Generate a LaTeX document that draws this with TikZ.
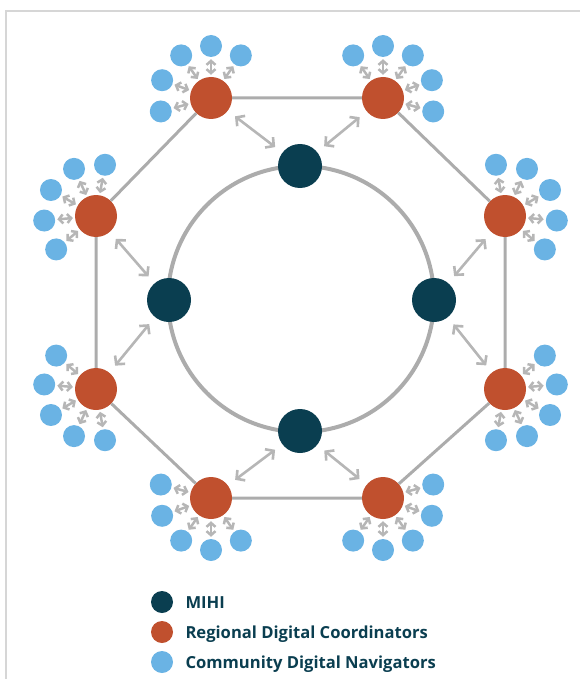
\documentclass[tikz,border=0pt]{standalone}
\usepackage{fontspec}
\setmainfont{Open Sans}
\usetikzlibrary{arrows.meta}
\usetikzlibrary{calc}
\definecolor{mihiblue}{RGB}{10,62,80}
\definecolor{rdcred}{RGB}{192,80,46}
\definecolor{cdnblue}{RGB}{106,179,228}
\definecolor{linegray}{RGB}{172,172,172}
\definecolor{arrowgray}{RGB}{182,182,182}
\definecolor{framegray}{RGB}{214,214,214}

\begin{document}
\begin{tikzpicture}[x=1pt,y=-1pt]
\tikzset{font=\bfseries\fontsize{16.6}{19}\selectfont}
\tikzset{mihi/.style={circle, fill=mihiblue, minimum size=44pt, inner sep=0pt}}
\tikzset{regional/.style={circle, fill=rdcred, minimum size=42pt, inner sep=0pt}}
\tikzset{navigator/.style={circle, fill=cdnblue, minimum size=22pt, inner sep=0pt}}
\tikzset{octline/.style={draw=linegray, line width=3pt}}
\tikzset{ringline/.style={draw=linegray, line width=4pt}}
\tikzset{linkarrow/.style={draw=arrowgray, line width=2.6pt, {Straight Barb[length=6pt,width=13pt]}-{Straight Barb[length=6pt,width=13pt]}, shorten <=9pt, shorten >=9pt}}
\tikzset{navarrow/.style={draw=arrowgray, line width=2.5pt, {Straight Barb[length=4pt,width=9pt]}-{Straight Barb[length=4pt,width=9pt]}, shorten <=2pt, shorten >=2pt}}
\tikzset{legendtext/.style={anchor=base west, text=mihiblue}}
\useasboundingbox (0,0) rectangle (580,679);
\draw[framegray, line width=2pt] (6,679) -- (6,11) -- (580,11);

% central ring with the MIHI hubs
\draw[ringline] (301,299) circle (133pt);
\node[mihi] (m1) at (300,166) {};
\node[mihi] (m2) at (434,300) {};
\node[mihi] (m3) at (300,431) {};
\node[mihi] (m4) at (169,300) {};

% regional coordinators, each with five navigators
\foreach \i/\x/\y/\a/\s in {1/211/98/55/35, 2/383/98/125/-35, 3/505/216/100/-35, 4/505/389/40/-35, 5/383/498/15/-35, 6/211/498/165/35, 7/96/389/140/35, 8/96/216/80/35} {
  \node[regional] (r\i) at (\x,\y) {};
  \foreach \k in {0,...,4} {
    \node[navigator] (n\i-\k) at ($(r\i)+({\a+\k*\s}:52pt)$) {};
    \draw[navarrow] (r\i) -- (n\i-\k);
  }
}
\draw[octline] (r1) -- (r2) -- (r3) -- (r4) -- (r5) -- (r6) -- (r7) -- (r8) -- (r1);

% hub links
\draw[linkarrow] (r1) -- (m1);
\draw[linkarrow] (r2) -- (m1);
\draw[linkarrow] (r3) -- (m2);
\draw[linkarrow] (r4) -- (m2);
\draw[linkarrow] (r5) -- (m3);
\draw[linkarrow] (r6) -- (m3);
\draw[linkarrow] (r7) -- (m4);
\draw[linkarrow] (r8) -- (m4);

% legend
\node[mihi, minimum size=22pt] (keymihi) at (162,602) {};
\node[regional, minimum size=22pt] (keyrdc) at (162,632) {};
\node[navigator] (keycdn) at (162,662) {};
\node[legendtext] (keymihitext) at (182,608) {MIHI};
\node[legendtext] (keyrdctext) at (182,638) {Regional Digital Coordinators};
\node[legendtext] (keycdntext) at (182,668) {Community Digital Navigators};
\end{tikzpicture}
\end{document}
